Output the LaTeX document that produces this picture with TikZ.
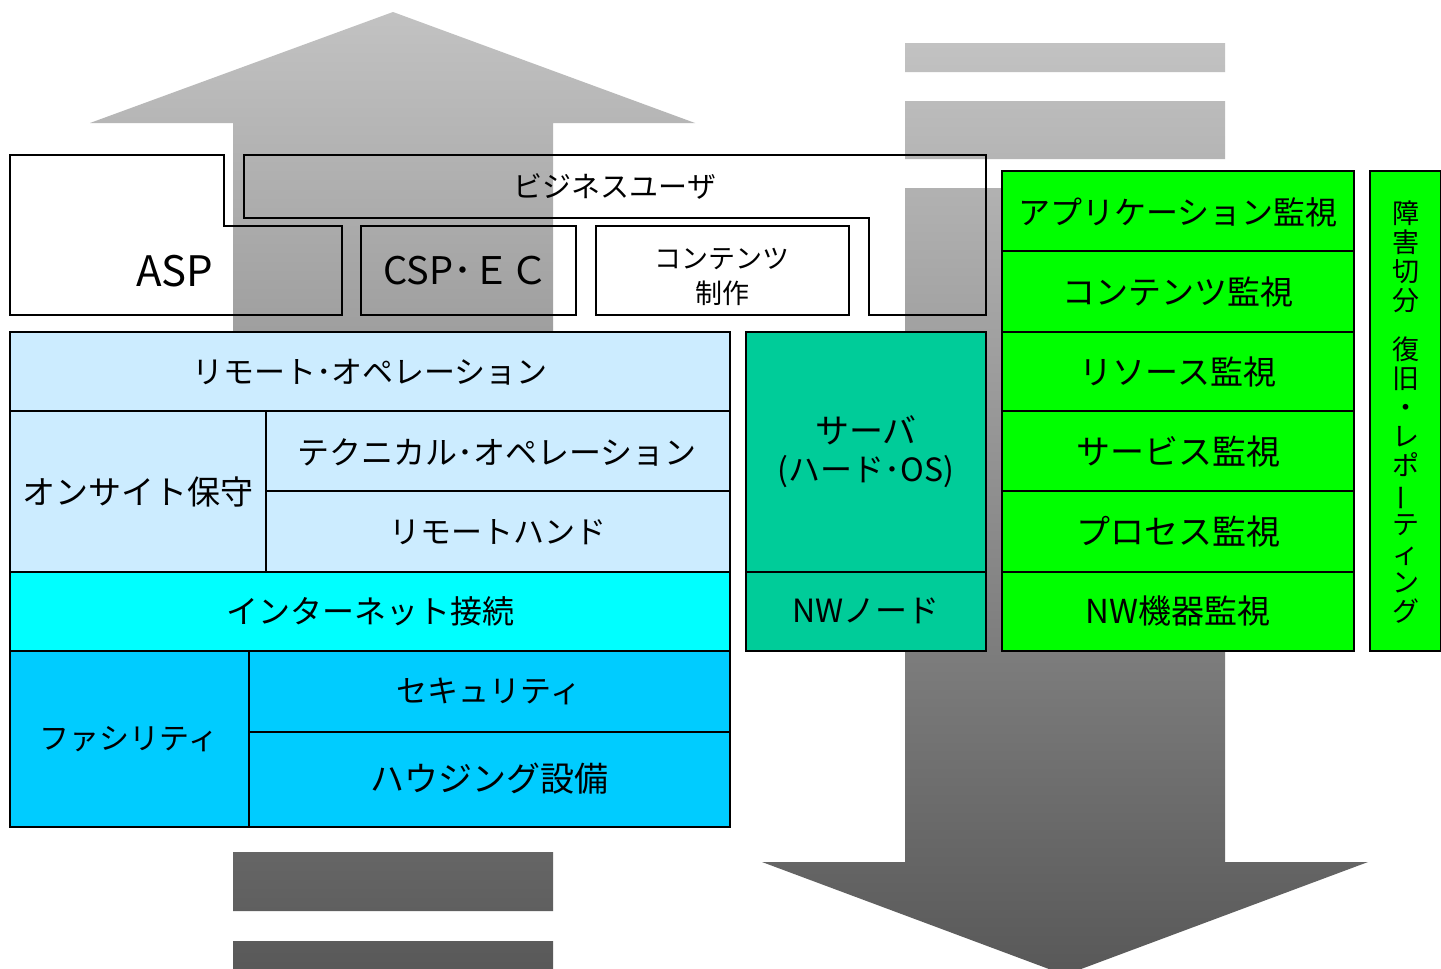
\documentclass[tikz,border=0pt]{standalone}
\usepackage{fontspec}
\setmainfont{Noto Sans CJK JP}
\usepackage{graphicx}
\definecolor{lblue}{HTML}{CCECFF}
\definecolor{cyanc}{HTML}{00FFFF}
\definecolor{skyc}{HTML}{00CCFF}
\definecolor{tealc}{HTML}{00CC99}
\definecolor{greenc}{HTML}{00FF00}
\definecolor{arrtop}{HTML}{C2C2C2}
\definecolor{arrbot}{HTML}{585858}
\newcommand\fs[1]{\fontsize{#1}{#1}\selectfont}
\begin{document}
\begin{tikzpicture}[x=1pt,y=-1pt,
  frame/.style={draw=black,line width=1.8pt},
  cell/.style={draw=black,line width=1.8pt},
  lbl/.style={inner sep=0pt,align=center,font=\fs{32}},
  arrowshade/.style={top color=arrtop,bottom color=arrbot,draw=none}]
\useasboundingbox (0,0) rectangle (1441,969);
\fill[white] (0,0) rectangle (1441,969);
% up arrow
\shade[arrowshade]
  (90,123) -- (393,12) -- (695,123) -- (553,123) -- (553,827) -- (233,827) -- (233,123) -- cycle
  (233,852) rectangle (553,911)
  (233,941) rectangle (553,975);
% down arrow
\shade[arrowshade]
  (905,43) rectangle (1225,72)
  (905,101) rectangle (1225,159)
  (905,188) -- (1225,188) -- (1225,862) -- (1368,862) -- (1065,975) -- (762,862) -- (905,862) -- cycle;

% top frames
\draw[frame] (10,155) -- (224,155) -- (224,226) -- (342,226) -- (342,315) -- (10,315) -- cycle;
\node[lbl,font=\fs{42}] (asp) at (175,271) {ASP};
\draw[frame] (244,155) -- (986,155) -- (986,315) -- (869,315) -- (869,218) -- (244,218) -- cycle;
\node[lbl,font=\fs{29}] (biz) at (615,186) {ビジネスユーザ};
\draw[frame] (361,226) rectangle (576,315);
\node[lbl,font=\fs{38}] (csp) at (466,271) {CSP･ＥＣ};
\draw[frame,fill=white] (596,226) rectangle (849,315);
\node[lbl,font=\fs{27},align=center] (cont) at (722,277) {コンテンツ\\[8pt]制作};

% left block
\draw[cell,fill=lblue] (10,332) rectangle (730,411);
\node[lbl,font=\fs{31}] (remop) at (370,372) {リモート･オペレーション};
\draw[cell,fill=lblue] (10,411) rectangle (266,572);
\node[lbl,font=\fs{33}] (onsite) at (138,492) {オンサイト保守};
\draw[cell,fill=lblue] (266,411) rectangle (730,491);
\node[lbl,font=\fs{32}] (tech) at (497,452) {テクニカル･オペレーション};
\draw[cell,fill=lblue] (266,491) rectangle (730,572);
\node[lbl,font=\fs{31}] (rhand) at (498,532) {リモートハンド};
\draw[cell,fill=cyanc] (10,572) rectangle (730,651);
\node[lbl,font=\fs{32}] (inet) at (370,611) {インターネット接続};
\draw[cell,fill=skyc] (10,651) rectangle (249,827);
\node[lbl,font=\fs{30}] (fac) at (129,739) {ファシリティ};
\draw[cell,fill=skyc] (249,651) rectangle (730,732);
\node[lbl,font=\fs{31}] (sec) at (489,691) {セキュリティ};
\draw[cell,fill=skyc] (249,732) rectangle (730,827);
\node[lbl,font=\fs{34}] (house) at (489,779) {ハウジング設備};

% middle block
\draw[cell,fill=tealc] (746,332) rectangle (986,572);
\node[lbl,font=\fs{34}] (server) at (866,452) {サーバ\\[4pt]{\fs{32}(ハード･OS)}};
\draw[cell,fill=tealc] (746,572) rectangle (986,651);
\node[lbl,font=\fs{32}] (nwnode) at (866,611) {NWノード};

% right block
\draw[cell,fill=greenc] (1002,171) rectangle (1354,251);
\node[lbl,font=\fs{32}] (app) at (1178,212) {アプリケーション監視};
\draw[cell,fill=greenc] (1002,251) rectangle (1354,332);
\node[lbl,font=\fs{33}] (cmon) at (1178,292) {コンテンツ監視};
\draw[cell,fill=greenc] (1002,332) rectangle (1354,411);
\node[lbl,font=\fs{33}] (rmon) at (1178,372) {リソース監視};
\draw[cell,fill=greenc] (1002,411) rectangle (1354,491);
\node[lbl,font=\fs{34}] (smon) at (1178,452) {サービス監視};
\draw[cell,fill=greenc] (1002,491) rectangle (1354,572);
\node[lbl,font=\fs{34}] (pmon) at (1178,532) {プロセス監視};
\draw[cell,fill=greenc] (1002,572) rectangle (1354,651);
\node[lbl,font=\fs{33}] (nwmon) at (1178,611) {NW機器監視};

\draw[cell,fill=greenc] (1370,171) rectangle (1441,651);
\node[lbl,font=\fs{27},align=center] (vert) at (1406,412)
  {障\\[2pt]害\\[2pt]切\\[2pt]分\\[22pt]復\\[2pt]旧\\[2pt]・\\[2pt]レ\\[2pt]ポ\\[2pt]\rotatebox[origin=c]{90}{ー}\\[2pt]テ\\[2pt]ィ\\[2pt]ン\\[2pt]グ};
\end{tikzpicture}
\end{document}
